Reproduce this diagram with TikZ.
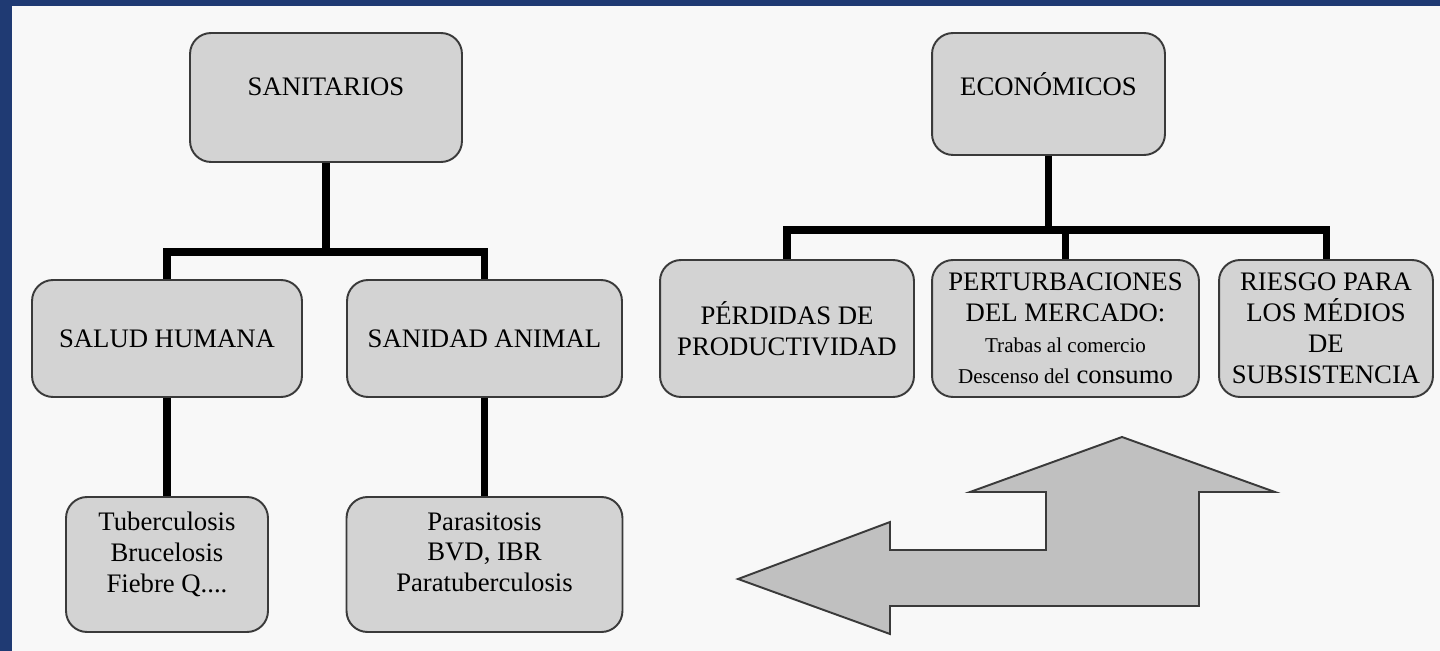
\documentclass[tikz,border=0pt]{standalone}
\usepackage{fontspec}
\setmainfont{Liberation Serif}
\usetikzlibrary{calc}
\definecolor{frameblue}{HTML}{1F3A73}
\definecolor{paper}{HTML}{F8F8F8}
\definecolor{boxgray}{HTML}{D3D3D3}
\definecolor{arrowgray}{HTML}{C0C0C0}
\definecolor{edge}{HTML}{3A3A3A}
\newcommand{\capsfont}{\fontsize{15.2}{17.6}\selectfont}
\newcommand{\smallfont}{\fontsize{12}{17.6}\selectfont}

\begin{document}
\begin{tikzpicture}[
  x=0.02cm, y=-0.02cm,
  box/.style={draw=edge,fill=boxgray,line width=1.1pt,rounded corners=0.42cm,
              align=center,inner sep=0pt,font=\capsfont},
  txt/.style={align=center,inner sep=0pt,font=\capsfont},
  conn/.style={draw=black,line width=4pt},
  bigarrow/.style={draw=edge,fill=arrowgray,line width=1.1pt,line join=miter}
]
% frame and paper
\fill[frameblue] (0,0) rectangle (1440,651);
\fill[paper] (12,6) rectangle (1440,651);

% sanitarios branch
\node[box,minimum width=5.44cm,minimum height=2.58cm] (sanit) at (326,97.5) {};
\node[txt,anchor=base] (sanit-t) at (326,96) {SANITARIOS};
\node[box,minimum width=5.4cm,minimum height=2.34cm] (salud) at (167,338.5) {SALUD HUMANA};
\node[box,minimum width=5.5cm,minimum height=2.34cm] (sanidad) at (484.5,338.5) {SANIDAD ANIMAL};
\node[box,minimum width=4.04cm,minimum height=2.7cm] (tuber) at (167,564.5) {};
\node[txt,anchor=north] (tuber-t) at (167,512)
     {Tuberculosis\\Brucelosis\\Fiebre Q....};
\node[box,minimum width=5.52cm,minimum height=2.7cm] (parasit) at (484.5,564.5) {};
\node[txt,anchor=north] (parasit-t) at (484.5,512)
     {Parasitosis\\BVD, IBR\\Paratuberculosis};

\coordinate (sbar) at (326,252);
\draw[conn] (sanit.south) -- (sbar);
\draw[conn] (salud.north) |- (sbar) -| (sanidad.north);
\draw[conn] (salud) -- (tuber);
\draw[conn] (sanidad) -- (parasit);

% economicos branch
\node[box,minimum width=4.66cm,minimum height=2.44cm] (econ) at (1048.5,94) {};
\node[txt,anchor=base] (econ-t) at (1048.5,96) {ECONÓMICOS};
\node[box,minimum width=5.08cm,minimum height=2.74cm] (perdidas) at (787,328.5)
     {PÉRDIDAS DE\\PRODUCTIVIDAD};
\node[box,minimum width=5.34cm,minimum height=2.74cm] (perturb) at (1065.5,328.5)
     {PERTURBACIONES\\DEL MERCADO:\\{\smallfont Trabas al comercio}\\
      {\smallfont Descenso del} consumo};
\node[box,minimum width=4.28cm,minimum height=2.74cm] (riesgo) at (1326,328.5)
     {RIESGO PARA\\LOS MÉDIOS\\DE\\SUBSISTENCIA};

\coordinate (ebar) at (1048.5,230);
\draw[conn] (econ.south) -- (ebar);
\draw[conn] (perdidas.north) |- (ebar) -| (riesgo.north);
\draw[conn] (perturb.north) -- (perturb.north |- ebar);

% double arrow shape
\draw[bigarrow] (738,579) -- (890,522) -- (890,550) -- (1046,550) -- (1046,492)
  -- (970,492) -- (1122,437) -- (1275,492) -- (1199,492) -- (1199,606)
  -- (890,606) -- (890,634) -- cycle;
\end{tikzpicture}
\end{document}
